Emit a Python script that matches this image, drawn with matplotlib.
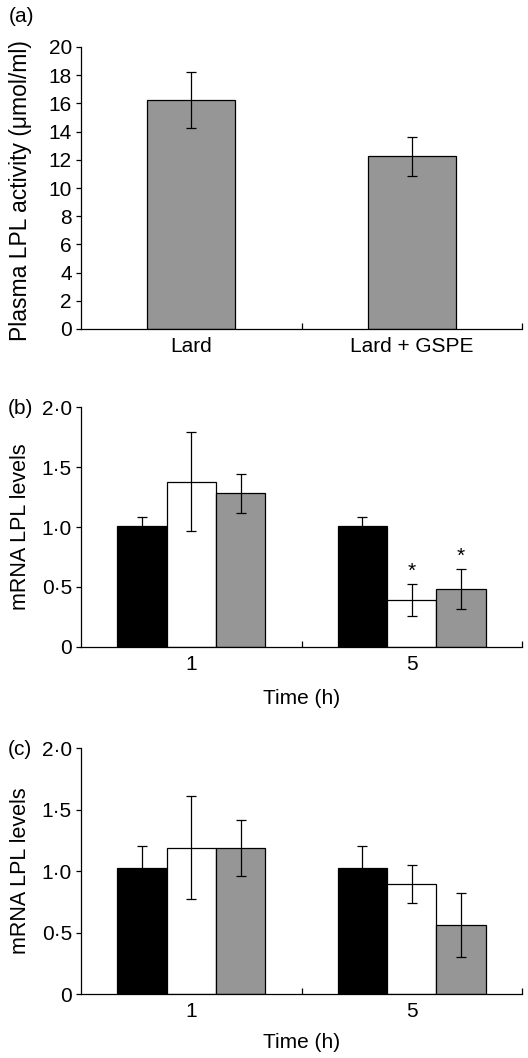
import numpy as np
import matplotlib
matplotlib.use("Agg")
from matplotlib import pyplot as plt
from matplotlib.ticker import FixedLocator

plt.rcParams["font.family"] = ["Liberation Sans", "DejaVu Sans"]
plt.rcParams["font.size"] = 15

# (a) plasma LPL activity
a_groups = ["Lard", "Lard + GSPE"]
a_values = [16.25, 12.25]
a_errors = [2.0, 1.4]
a_yticks = [0, 2, 4, 6, 8, 10, 12, 14, 16, 18, 20]

# (b) and (c) mRNA levels, three series at 1 h and 5 h
times = ["1", "5"]
b_values = [[1.01, 1.01], [1.38, 0.39], [1.28, 0.48]]
b_errors = [[0.07, 0.07], [0.41, 0.13], [0.165, 0.165]]
b_stars = [[False, False], [False, True], [False, True]]
c_values = [[1.025, 1.025], [1.19, 0.895], [1.19, 0.565]]
c_errors = [[0.18, 0.18], [0.42, 0.155], [0.23, 0.26]]
c_stars = [[False, False], [False, False], [False, False]]
mrna_yticks = [0, 0.5, 1.0, 1.5, 2.0]
mrna_yticklabels = ["0", "0\u00b75", "1\u00b70", "1\u00b75", "2\u00b70"]

series_colors = ["black", "white", "#969696"]
W, H = 528, 1058


def px_axes(fig, left, right, top, bottom):
    return fig.add_axes([left / W, 1 - bottom / H, (right - left) / W, (bottom - top) / H])


def style_axes(ax, ncat):
    for s in ("top", "right"):
        ax.spines[s].set_visible(False)
    for s in ("left", "bottom"):
        ax.spines[s].set_linewidth(0.9)
    ax.set_xlim(-0.5, ncat - 0.5)
    ax.set_xticks(range(ncat))
    ax.xaxis.set_minor_locator(FixedLocator([i + 0.5 for i in range(ncat)]))
    ax.tick_params(axis="x", which="major", length=0, pad=6)
    ax.tick_params(axis="x", which="minor", direction="in", length=4, width=0.9)
    ax.tick_params(axis="y", direction="out", length=3.5, width=0.9, pad=3)


fig = plt.figure(figsize=(W / 100, H / 100), dpi=100)

# panel (a)
ax = px_axes(fig, 81, 522, 47, 329)
x = np.arange(len(a_groups))
ax.bar(x, a_values, width=0.4, color="#969696", edgecolor="black", linewidth=0.9, zorder=2)
ax.errorbar(x, a_values, yerr=a_errors, fmt="none", ecolor="black", elinewidth=0.9,
            capsize=3.5, capthick=0.9, zorder=3)
style_axes(ax, len(a_groups))
ax.set_xticklabels(a_groups)
ax.set_ylim(0, 20)
ax.set_yticks(a_yticks)
ax.set_ylabel("Plasma LPL activity (\u03bcmol/ml)", fontsize=16.5)
ax.yaxis.label.set_va("center")
ax.yaxis.set_label_coords((21 - 81) / 441, (329 - 191) / 282)
fig.text(21 / W, 1 - 16 / H, "(a)", ha="center", va="center")

# panels (b) and (c)
panels = [
    ("(b)", b_values, b_errors, b_stars, 407.3, 646.7, 698),
    ("(c)", c_values, c_errors, c_stars, 748.3, 994, 1043),
]
bw = 0.224
for label, vals, errs, stars, top, bottom, xlab_y in panels:
    ax = px_axes(fig, 81, 522, top, bottom)
    x = np.arange(len(times))
    for i in range(3):
        xi = x + (i - 1) * bw
        ax.bar(xi, vals[i], width=bw, color=series_colors[i], edgecolor="black",
               linewidth=0.9, zorder=2)
        ax.errorbar(xi, vals[i], yerr=errs[i], fmt="none", ecolor="black", elinewidth=0.9,
                    capsize=3.5, capthick=0.9, zorder=3)
        for j in range(len(times)):
            if stars[i][j]:
                ax.text(xi[j], vals[i][j] + errs[i][j] + 0.03, "*", ha="center", va="bottom",
                        fontsize=15)
    style_axes(ax, len(times))
    ax.set_xticklabels(times)
    ax.set_ylim(0, 2.0)
    ax.set_yticks(mrna_yticks)
    ax.set_yticklabels(mrna_yticklabels)
    ax.set_ylabel("mRNA LPL levels", fontsize=15.5)
    ax.yaxis.label.set_va("center")
    ax.yaxis.set_label_coords((21 - 81) / 441, 0.5)
    ax.set_xlabel("Time (h)")
    ax.xaxis.label.set_va("center")
    ax.xaxis.set_label_coords(0.5, -(xlab_y - bottom) / (bottom - top))
    fig.text(20 / W, 1 - (top + 1) / H, label, ha="center", va="center")

fig.savefig("out.png", dpi=100)
